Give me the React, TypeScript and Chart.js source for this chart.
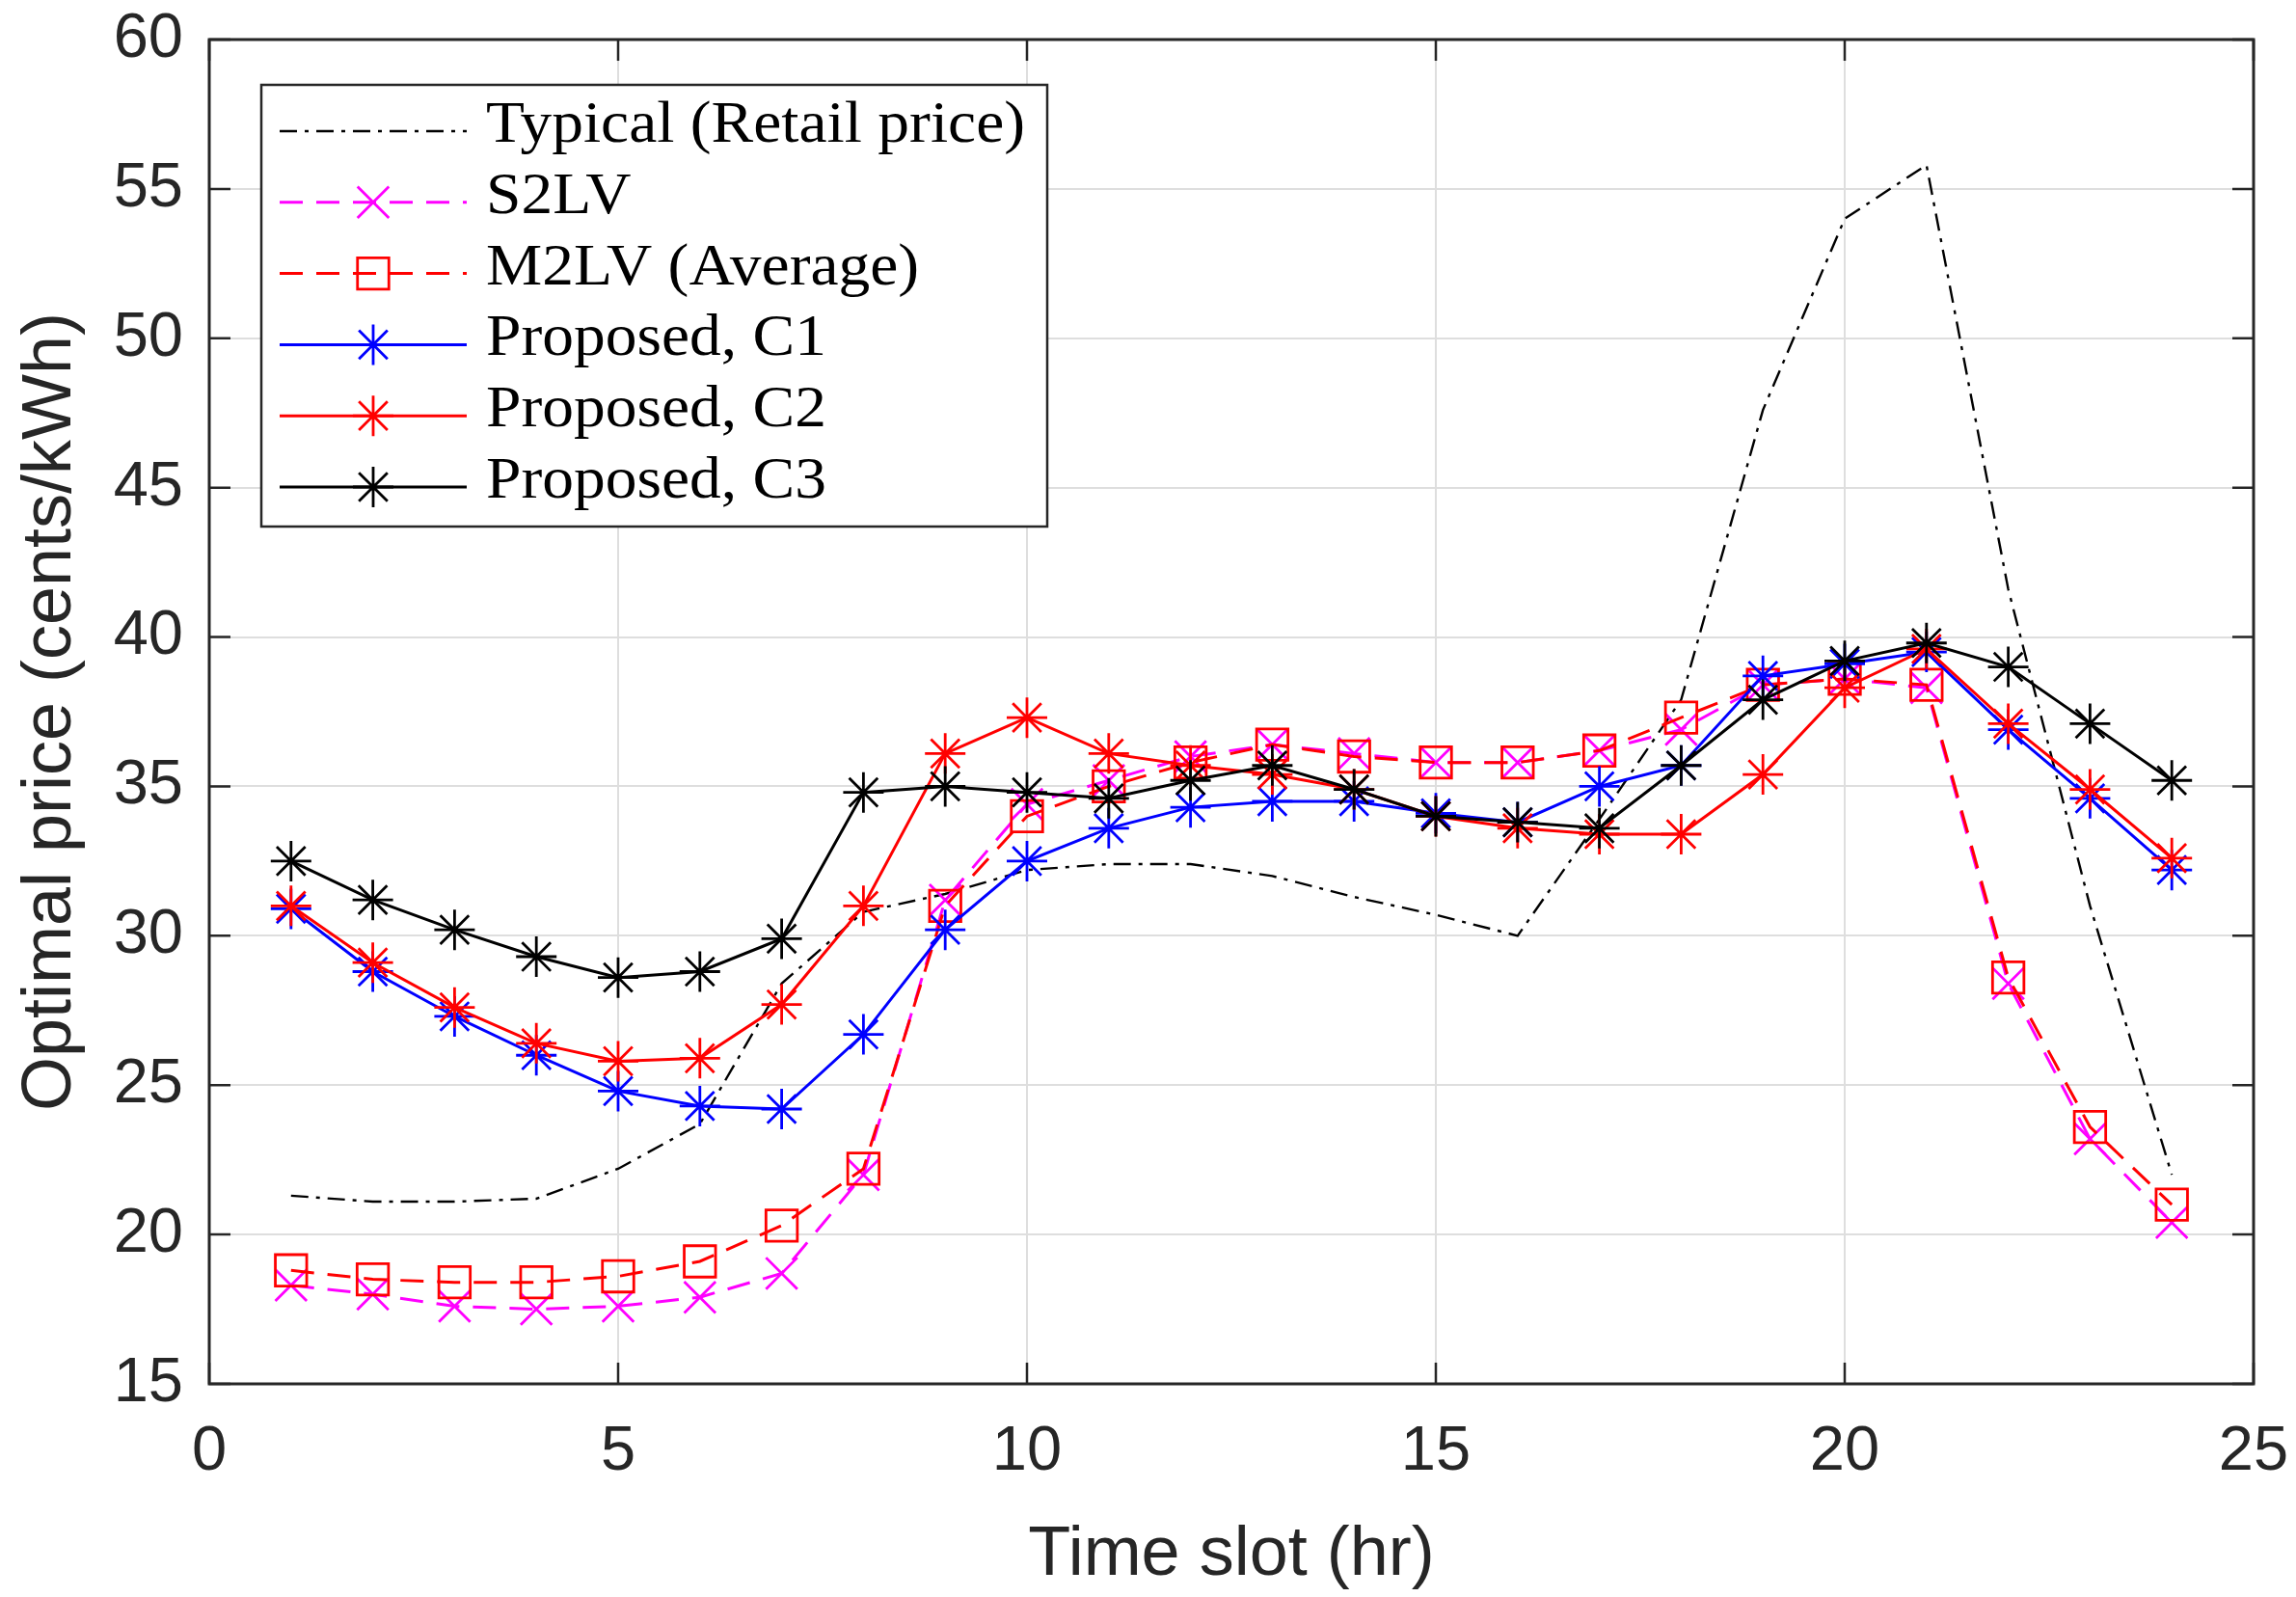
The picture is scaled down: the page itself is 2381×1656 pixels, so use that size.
import React, { useEffect, useRef } from 'react';
import { Chart, registerables } from 'chart.js';
Chart.register(...registerables);

// time slots and prices (cents/kWh)
const hours = [1, 2, 3, 4, 5, 6, 7, 8, 9, 10, 11, 12, 13, 14, 15, 16, 17, 18, 19, 20, 21, 22, 23, 24];
const typicalPrice = [21.3, 21.1, 21.1, 21.2, 22.2, 23.7, 28.4, 30.8, 31.4, 32.2, 32.4, 32.4, 32.0, 31.3, 30.7, 30.0, 33.9, 37.9, 47.6, 54.0, 55.8, 41.6, 31.0, 22.0];
const s2lvPrice = [18.3, 18.0, 17.6, 17.5, 17.6, 17.9, 18.7, 22.0, 31.2, 34.4, 35.2, 36.0, 36.4, 36.1, 35.8, 35.8, 36.2, 36.9, 38.4, 38.6, 38.3, 28.4, 23.2, 20.4];
const m2lvPrice = [18.8, 18.5, 18.4, 18.4, 18.6, 19.1, 20.3, 22.2, 31.0, 34.0, 35.0, 35.8, 36.4, 36.0, 35.8, 35.8, 36.2, 37.3, 38.4, 38.6, 38.4, 28.6, 23.6, 21.0];
const c1Price = [30.9, 28.8, 27.3, 26.0, 24.8, 24.3, 24.2, 26.7, 30.2, 32.5, 33.6, 34.3, 34.5, 34.5, 34.1, 33.8, 35.0, 35.7, 38.7, 39.1, 39.5, 36.9, 34.6, 32.2];
const c2Price = [31.0, 29.1, 27.6, 26.4, 25.8, 25.9, 27.7, 31.0, 36.1, 37.3, 36.1, 35.7, 35.4, 34.9, 34.0, 33.6, 33.4, 33.4, 35.4, 38.3, 39.6, 37.1, 34.9, 32.6];
const c3Price = [32.5, 31.2, 30.2, 29.3, 28.6, 28.8, 29.9, 34.8, 35.0, 34.8, 34.6, 35.2, 35.7, 34.9, 34.0, 33.8, 33.6, 35.7, 37.9, 39.2, 39.8, 39.0, 37.1, 35.2];

const seriesLabels = ['Typical (Retail price)', 'S2LV', 'M2LV (Average)', 'Proposed, C1', 'Proposed, C2', 'Proposed, C3'];

const AXIS = '#262626';
const SANS = "'Liberation Sans', Arial, sans-serif";
const SERIF = "'Liberation Serif', 'Times New Roman', serif";
const TICK_LEN = 22;

const toPoints = (ys: number[]) => hours.map((h, i) => ({ x: h, y: ys[i] }));

function drawMarker(ctx: CanvasRenderingContext2D, style: string, x: number, y: number, r: number) {
  ctx.beginPath();
  const d = r * Math.SQRT1_2;
  if (style === 'star') {
    ctx.moveTo(x - r, y); ctx.lineTo(x + r, y);
    ctx.moveTo(x, y - r); ctx.lineTo(x, y + r);
    ctx.moveTo(x - d, y - d); ctx.lineTo(x + d, y + d);
    ctx.moveTo(x - d, y + d); ctx.lineTo(x + d, y - d);
  } else if (style === 'crossRot') {
    ctx.moveTo(x - d, y - d); ctx.lineTo(x + d, y + d);
    ctx.moveTo(x - d, y + d); ctx.lineTo(x + d, y - d);
  } else if (style === 'rect') {
    ctx.rect(x - d, y - d, 2 * d, 2 * d);
  }
  ctx.stroke();
}

// matlab-like box, inward ticks and legend inside the axes
const boxPlugin = {
  id: 'matlabBox',
  afterDraw(chart: any) {
    const { ctx, chartArea: a, scales } = chart;
    ctx.save();
    ctx.strokeStyle = AXIS;
    ctx.lineWidth = 2.5;
    ctx.setLineDash([]);
    ctx.beginPath();
    scales.x.ticks.forEach((t: any) => {
      const px = scales.x.getPixelForValue(t.value);
      ctx.moveTo(px, a.bottom); ctx.lineTo(px, a.bottom - TICK_LEN);
      ctx.moveTo(px, a.top); ctx.lineTo(px, a.top + TICK_LEN);
    });
    scales.y.ticks.forEach((t: any) => {
      const py = scales.y.getPixelForValue(t.value);
      ctx.moveTo(a.left, py); ctx.lineTo(a.left + TICK_LEN, py);
      ctx.moveTo(a.right, py); ctx.lineTo(a.right - TICK_LEN, py);
    });
    ctx.stroke();
    ctx.lineWidth = 3;
    ctx.strokeRect(a.left, a.top, a.right - a.left, a.bottom - a.top);

    // legend
    const bx = a.left + 54, by = a.top + 47, bw = 815, bh = 458;
    ctx.fillStyle = '#ffffff';
    ctx.fillRect(bx, by, bw, bh);
    ctx.lineWidth = 2.5;
    ctx.strokeStyle = AXIS;
    ctx.strokeRect(bx, by, bw, bh);

    ctx.font = `62px ${SERIF}`;
    const sx = 559 / ctx.measureText(seriesLabels[0]).width;
    chart.data.datasets.forEach((ds: any, i: number) => {
      const rowY = by + 48 + i * 73.8;
      const x0 = bx + 19, x1 = bx + 213, xm = (x0 + x1) / 2;
      ctx.strokeStyle = ds.borderColor;
      ctx.lineWidth = ds.borderWidth;
      ctx.setLineDash(ds.borderDash || []);
      ctx.beginPath();
      ctx.moveTo(x0, rowY); ctx.lineTo(x1, rowY);
      ctx.stroke();
      ctx.setLineDash([]);
      if (ds.pointRadius > 0) {
        ctx.lineWidth = ds.pointBorderWidth;
        drawMarker(ctx, ds.pointStyle, xm, rowY, ds.pointRadius);
      }
      ctx.save();
      ctx.translate(bx + 233, rowY + 11);
      ctx.scale(sx, 1);
      ctx.fillStyle = '#000000';
      ctx.textAlign = 'left';
      ctx.textBaseline = 'alphabetic';
      ctx.fillText(ds.label, 0, 0);
      ctx.restore();
    });
    ctx.restore();
  },
};

const PriceChart: React.FC = () => {
  const canvasRef = useRef<HTMLCanvasElement>(null);
  const chartRef = useRef<Chart | null>(null);

  useEffect(() => {
    if (!canvasRef.current) return;
    if (chartRef.current) chartRef.current.destroy();
    const ctx = canvasRef.current.getContext('2d');
    if (!ctx) return;

    const line = (label: string, ys: number[], color: string, extra: any) => ({
      label,
      data: toPoints(ys),
      borderColor: color,
      backgroundColor: 'transparent',
      pointBorderColor: color,
      pointBackgroundColor: 'transparent',
      borderWidth: 3,
      pointBorderWidth: 2.8,
      tension: 0,
      ...extra,
    });

    chartRef.current = new Chart(ctx, {
      type: 'line',
      data: {
        datasets: [
          line(seriesLabels[0], typicalPrice, '#000000', { borderDash: [18, 8, 4, 8], pointRadius: 0, borderWidth: 2.4, order: 5 }),
          line(seriesLabels[1], s2lvPrice, '#ff00ff', { borderDash: [24, 14], pointStyle: 'crossRot', pointRadius: 23, order: 4 }),
          line(seriesLabels[2], m2lvPrice, '#ff0000', { borderDash: [24, 14], pointStyle: 'rect', pointRadius: 23, order: 3 }),
          line(seriesLabels[3], c1Price, '#0000ff', { pointStyle: 'star', pointRadius: 21, order: 2 }),
          line(seriesLabels[4], c2Price, '#ff0000', { pointStyle: 'star', pointRadius: 21, order: 1 }),
          line(seriesLabels[5], c3Price, '#000000', { pointStyle: 'star', pointRadius: 21, order: 0 }),
        ],
      },
      options: {
        animation: false,
        responsive: true,
        maintainAspectRatio: false,
        layout: { autoPadding: false, padding: { top: 41, right: 44, left: 0, bottom: 0 } },
        plugins: { legend: { display: false }, tooltip: { enabled: false } },
        scales: {
          x: {
            type: 'linear',
            min: 0,
            max: 25,
            ticks: { stepSize: 5, color: AXIS, padding: 32, font: { family: SANS, size: 65 } },
            grid: { color: '#dedede', lineWidth: 2, drawTicks: false },
            border: { display: false },
            title: { display: true, text: 'Time slot (hr)', color: AXIS, font: { family: SANS, size: 72 }, padding: { top: 5, bottom: 0 } },
            afterFit: (s: any) => {
              s.height = 221;
              s.paddingLeft = 0;
              s.paddingRight = 0;
            },
          },
          y: {
            min: 15,
            max: 60,
            ticks: { stepSize: 5, color: AXIS, padding: 27, font: { family: SANS, size: 65 } },
            grid: { color: '#dedede', lineWidth: 2, drawTicks: false },
            border: { display: false },
            title: { display: true, text: 'Optimal price (cents/kWh)', color: AXIS, font: { family: SANS, size: 72 }, padding: { top: 10, bottom: 0 } },
            afterFit: (s: any) => {
              s.width = 217;
              s.paddingTop = 0;
              s.paddingBottom = 0;
            },
          },
        },
      },
      plugins: [boxPlugin],
    });

    return () => {
      chartRef.current?.destroy();
      chartRef.current = null;
    };
  }, []);

  return (
    <div style={{ position: 'fixed', left: 0, top: 0, width: 2381, height: 1656, background: '#ffffff' }}>
      <canvas ref={canvasRef}></canvas>
    </div>
  );
};

export default function App() {
  return <PriceChart />;
}
